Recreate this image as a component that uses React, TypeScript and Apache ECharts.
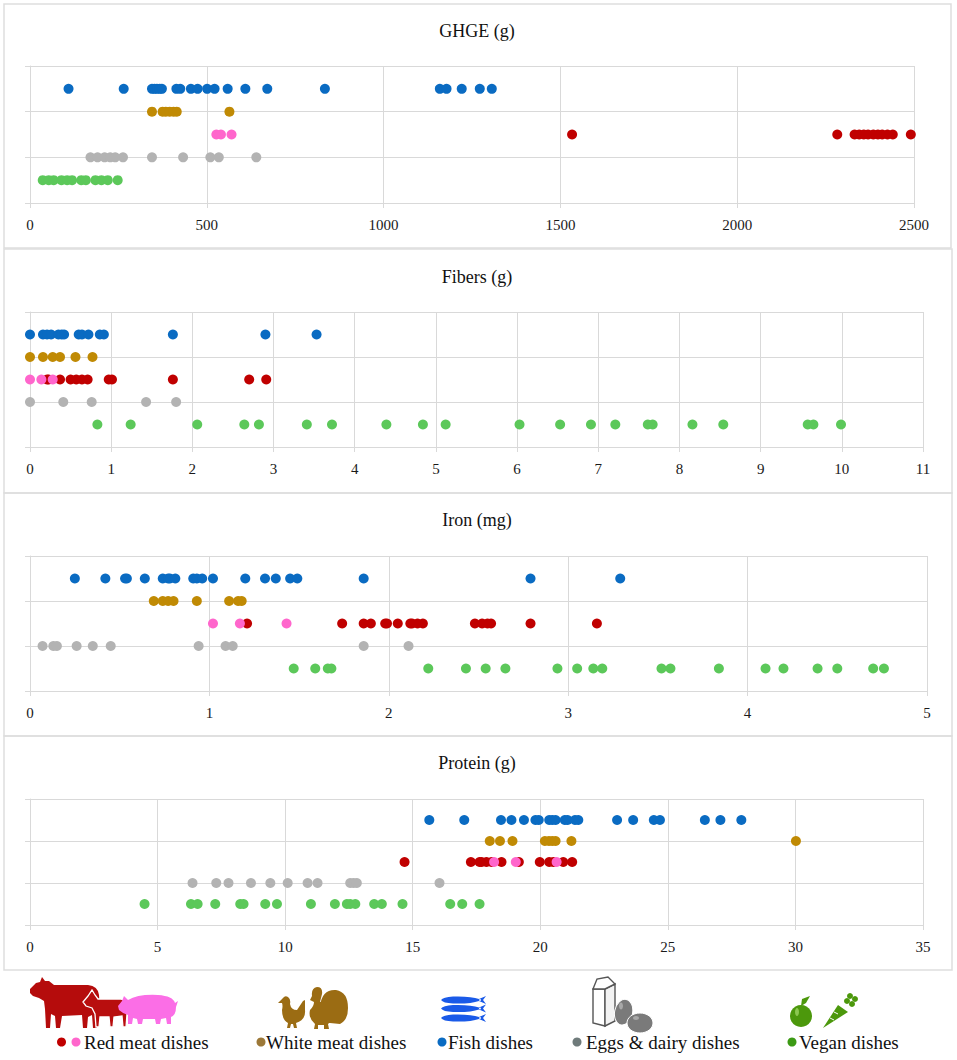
import React, { useEffect, useRef } from "react";
import * as echarts from "echarts";

// ---------- DATA ----------
const panelTitles = ["GHGE (g)", "Fibers (g)", "Iron (mg)", "Protein (g)"];
const axisMax = [2500, 11, 5, 35];
const axisInterval = [500, 1, 1, 5];

const categoryNames = ["Fish dishes", "White meat dishes", "Red meat dishes", "Red meat dishes (pork)", "Eggs & dairy dishes", "Vegan dishes"];
const categoryRows = [2.5, 2, 1.5, 1.5, 1, 0.5];

const ghgeFish = [109, 265, 345, 352, 359, 367, 373, 414, 425, 455, 474, 501, 522, 559, 609, 671, 834, 1159, 1178, 1221, 1272, 1306];
const ghgeWhite = [345, 375, 384, 395, 406, 415, 564];
const ghgeRed = [1533, 2283, 2332, 2345, 2358, 2370, 2385, 2398, 2410, 2425, 2440, 2491];
const ghgePink = [527, 540, 570];
const ghgeEggs = [171, 191, 211, 227, 241, 263, 345, 433, 510, 534, 640];
const ghgeVegan = [36, 53, 67, 89, 105, 119, 145, 158, 185, 202, 220, 248];

const fibFish = [0, 0.16, 0.21, 0.26, 0.35, 0.39, 0.42, 0.6, 0.64, 0.72, 0.86, 0.91, 1.76, 2.9, 3.53];
const fibWhite = [0, 0.16, 0.28, 0.37, 0.56, 0.77];
const fibRed = [0.21, 0.23, 0.37, 0.5, 0.57, 0.64, 0.71, 0.97, 1.01, 1.76, 2.7, 2.91];
const fibPink = [0, 0.14, 0.28];
const fibEggs = [0, 0.41, 0.76, 1.43, 1.8];
const fibVegan = [0.83, 1.24, 2.06, 2.64, 2.82, 3.41, 3.72, 4.39, 4.84, 5.12, 6.03, 6.53, 6.91, 7.21, 7.61, 7.67, 8.16, 8.54, 9.58, 9.65, 9.99];

const ironFish = [0.25, 0.42, 0.53, 0.54, 0.64, 0.74, 0.77, 0.78, 0.81, 0.91, 0.93, 0.96, 1.02, 1.2, 1.31, 1.37, 1.45, 1.49, 1.86, 2.79, 3.29];
const ironWhite = [0.69, 0.74, 0.77, 0.8, 0.93, 1.11, 1.16, 1.18];
const ironRed = [1.21, 1.74, 1.86, 1.9, 1.98, 1.99, 2.05, 2.12, 2.13, 2.16, 2.19, 2.48, 2.52, 2.55, 2.57, 2.79, 3.16];
const ironPink = [1.02, 1.17, 1.43];
const ironEggs = [0.07, 0.13, 0.15, 0.26, 0.35, 0.45, 0.94, 1.09, 1.13, 1.86, 2.11];
const ironVegan = [1.47, 1.59, 1.66, 1.68, 2.22, 2.43, 2.54, 2.65, 2.94, 3.05, 3.14, 3.19, 3.52, 3.57, 3.84, 4.1, 4.2, 4.39, 4.5, 4.7, 4.76];

const protFish = [15.65, 17.02, 18.46, 18.87, 19.36, 19.81, 19.94, 20.35, 20.47, 20.6, 20.96, 21.07, 21.36, 21.49, 23.01, 23.64, 24.45, 24.69, 26.45, 27.06, 27.88];
const protWhite = [18.02, 18.42, 18.91, 20.18, 20.34, 20.47, 20.6, 21.22, 30.02];
const protRed = [14.68, 17.28, 17.62, 17.7, 17.89, 18.09, 18.48, 19.16, 19.98, 20.35, 20.51, 20.9, 21.25];
const protPink = [18.19, 19.04, 20.64];
const protEggs = [6.37, 7.3, 7.78, 8.66, 9.42, 10.1, 10.88, 11.27, 12.55, 12.68, 12.81, 16.05];
const protVegan = [4.49, 6.31, 6.57, 7.26, 8.24, 8.37, 9.22, 9.68, 11.01, 11.95, 12.42, 12.55, 12.75, 13.49, 13.79, 14.6, 16.47, 16.94, 17.62];

const panelData = [
  [ghgeFish, ghgeWhite, ghgeRed, ghgePink, ghgeEggs, ghgeVegan],
  [fibFish, fibWhite, fibRed, fibPink, fibEggs, fibVegan],
  [ironFish, ironWhite, ironRed, ironPink, ironEggs, ironVegan],
  [protFish, protWhite, protRed, protPink, protEggs, protVegan],
];

const legendLabels = ["Red meat dishes", "White meat dishes", "Fish dishes", "Eggs & dairy dishes", "Vegan dishes"];

// ---------- STYLE ----------
const dotColors = ["#0a6bc2", "#c08a04", "#c00000", "#ff66cc", "#b3b3b3", "#5cc85a"];
const gridBoxes = [
  { top: 66, height: 137, right: 43 },
  { top: 312, height: 135, right: 34 },
  { top: 556, height: 135, right: 30 },
  { top: 799, height: 126, right: 34 },
];
const titleY = [31, 277, 520, 763];
const frames = [
  [4, 4, 947, 244],
  [4, 249, 948, 244],
  [4, 493, 948, 243],
  [4, 736, 948, 234],
];
const SERIF = "Liberation Serif";
const GRID_COLOR = "#d9d9d9";

const shapes: Record<string, string> = {
  cowShape:
    "M0,12 L6,6 L10,5 L12,0 L15,4 L19,4 L24,8 L58,8 Q68,9 69,18 L70,34 L67,36 L67,51 L63,51 L62,38 L58,40 L57,51 L53,51 L52,38 L32,39 L30,51 L26,51 L25,39 L21,37 L20,51 L16,51 L15,32 L14,24 L9,21 L3,19 L0,16 Z",
  calfShape:
    "M0,12 L5,6 L9,0 L12,5 L15,9 L38,9 Q45,10 45,16 L44,24 L43,37 L40,37 L39,26 L31,27 L30,37 L27,37 L26,27 L17,27 L16,37 L13,37 L12,24 L9,18 L3,16 Z",
  pigShape:
    "M0,12 L4,7 L6,2 L10,6 Q20,0 40,1 Q55,2 57,9 L60,7 L58,13 Q58,21 53,23 L53,30 L49,30 L48,24 L43,25 L42,30 L38,30 L37,25 L25,25 L24,30 L20,30 L19,25 L15,24 L14,30 L10,30 L10,21 Q4,19 1,16 Z",
  henShape:
    "M2,6 L5,3 Q7,0 10,2 Q13,4 12,9 Q13,15 19,15 L25,6 L27,5 L27,15 Q28,25 18,28 L19,33 L16,33 L15,29 L13,29 L12,33 L9,33 L10,28 Q4,25 4,15 Q5,11 4,8 L0,8 Z",
  turkeyShape:
    "M14,20 Q16,3 30,4 Q42,6 42,22 Q42,34 34,38 L14,36 Z M6,10 Q5,2 11,1 Q17,1 16,8 L14,16 Q22,14 28,22 Q30,32 22,38 L23,43 L18,43 L18,39 L12,39 L12,43 L8,43 L9,38 Q2,32 4,24 Q8,20 8,16 L4,14 Z",
  fishShape:
    "M0,4 Q2,1 12,0.5 Q30,0 38,3 L45,0 L42,4 L45,8 L38,5 Q30,8 12,7.5 Q2,7 0,4 Z",
};

let registered = false;
function registerShapes() {
  if (registered) return;
  Object.keys(shapes).forEach((k) => {
    echarts.graphic.registerShape(k, echarts.graphic.extendPath(shapes[k], {}));
  });
  registered = true;
}

function buildOption() {
  const grid = gridBoxes.map((g) => ({ left: 30, right: g.right, top: g.top, height: g.height, containLabel: false }));
  const xAxis = axisMax.map((m, i) => ({
    type: "value",
    gridIndex: i,
    min: 0,
    max: m,
    interval: axisInterval[i],
    axisLine: { show: true, lineStyle: { color: GRID_COLOR, width: 1 } },
    axisTick: { show: true, length: 5, lineStyle: { color: GRID_COLOR } },
    splitLine: { show: true, lineStyle: { color: GRID_COLOR, width: 1 } },
    axisLabel: {
      color: "#1a1a1a",
      fontFamily: SERIF,
      fontSize: 15,
      margin: 14,
      formatter: (v: number) => String(v),
    },
  }));
  const yAxis = axisMax.map((_, i) => ({
    type: "value",
    gridIndex: i,
    min: 0,
    max: 3,
    interval: 1,
    axisLine: { show: true, lineStyle: { color: GRID_COLOR, width: 1 } },
    axisTick: { show: true, length: 5, lineStyle: { color: GRID_COLOR } },
    splitLine: { show: true, lineStyle: { color: GRID_COLOR, width: 1 } },
    axisLabel: { show: false },
  }));
  const series: any[] = [];
  panelData.forEach((cats, pi) => {
    cats.forEach((vals, ci) => {
      series.push({
        type: "scatter",
        name: categoryNames[ci],
        xAxisIndex: pi,
        yAxisIndex: pi,
        symbol: "circle",
        symbolSize: 10,
        itemStyle: { color: dotColors[ci], opacity: 1 },
        data: vals.map((v) => [v, categoryRows[ci]]),
        z: 2 + ci,
      });
    });
  });

  const g: any[] = [];
  frames.forEach(([x, y, w, h]) => {
    g.push({ type: "rect", shape: { x, y, width: w, height: h }, style: { fill: "none", stroke: "#dedede", lineWidth: 1.5 }, silent: true, z: 0 });
  });
  panelTitles.forEach((t, i) => {
    g.push({
      type: "text",
      x: 477,
      y: titleY[i],
      style: { text: t, fill: "#111", fontFamily: SERIF, fontSize: 18, textAlign: "center", textVerticalAlign: "middle", align: "center", verticalAlign: "middle" },
    });
  });

  // ---- legend icons ----
  g.push({ type: "cowShape", x: 30, y: 977, style: { fill: "#b50c0c" } });
  g.push({ type: "calfShape", x: 83, y: 990, style: { fill: "#b80e0e", stroke: "#ffffff", lineWidth: 1.3 } });
  g.push({ type: "pigShape", x: 118, y: 994, style: { fill: "#fb6ee6" } });
  g.push({ type: "henShape", x: 278, y: 995, style: { fill: "#9b6c13" } });
  g.push({ type: "turkeyShape", x: 306, y: 986, style: { fill: "#9b6c13" } });
  [996, 1004.5, 1014].forEach((fy) => {
    g.push({ type: "fishShape", x: 441, y: fy, style: { fill: "#1a5ae8" } });
    g.push({ type: "circle", shape: { cx: 480, cy: fy + 4, r: 0.9 }, style: { fill: "#ffffff" } });
  });
  // milk carton
  g.push({ type: "polygon", shape: { points: [[593, 989], [605, 989], [605, 1026], [593, 1023]] }, style: { fill: "#ffffff", stroke: "#555", lineWidth: 1.4 } });
  g.push({ type: "polygon", shape: { points: [[605, 989], [615, 984], [615, 1021], [605, 1026]] }, style: { fill: "#f2f2f2", stroke: "#555", lineWidth: 1.4 } });
  g.push({ type: "polygon", shape: { points: [[593, 989], [597, 979], [608, 977], [615, 984], [605, 989]] }, style: { fill: "#ffffff", stroke: "#555", lineWidth: 1.4 } });
  // eggs
  g.push({ type: "ellipse", shape: { cx: 624, cy: 1012, rx: 9, ry: 13 }, rotation: -0.2, originX: 624, originY: 1012, style: { fill: "#7a7a7a", stroke: "#ffffff", lineWidth: 1 } });
  g.push({ type: "ellipse", shape: { cx: 621, cy: 1006, rx: 2, ry: 3.5 }, style: { fill: "#a8a8a8" } });
  g.push({ type: "ellipse", shape: { cx: 640, cy: 1023, rx: 13, ry: 10 }, style: { fill: "#7a7a7a", stroke: "#ffffff", lineWidth: 1 } });
  g.push({ type: "ellipse", shape: { cx: 636, cy: 1018, rx: 3, ry: 2 }, style: { fill: "#a8a8a8" } });
  // apple
  g.push({ type: "circle", shape: { cx: 801, cy: 1016, r: 11 }, style: { fill: "#4c980c" } });
  g.push({ type: "ellipse", shape: { cx: 797, cy: 1012, rx: 2, ry: 4 }, style: { fill: "#8cc850" } });
  g.push({ type: "polygon", shape: { points: [[801, 1006], [802, 999], [810, 996], [806, 1003]] }, style: { fill: "#4c980c" } });
  // carrot
  g.push({ type: "polygon", shape: { points: [[823, 1028], [838, 1005], [848, 1012]] }, style: { fill: "#4c980c" } });
  g.push({ type: "line", shape: { x1: 834, y1: 1012, x2: 838, y2: 1014 }, style: { stroke: "#fff", lineWidth: 1 } });
  g.push({ type: "line", shape: { x1: 830, y1: 1018, x2: 834, y2: 1020 }, style: { stroke: "#fff", lineWidth: 1 } });
  [[847, 1001], [852, 1004], [850, 996], [855, 999]].forEach(([cx, cy]) => {
    g.push({ type: "circle", shape: { cx, cy, r: 3 }, style: { fill: "#4c980c" } });
  });

  // ---- legend texts ----
  const legendDots = [
    { x: 61.5, c: "#c00000" },
    { x: 76, c: "#ff66cc" },
    { x: 261, c: "#9c7838" },
    { x: 442, c: "#0a6bc2" },
    { x: 577, c: "#6f7b7b" },
    { x: 792, c: "#3c9a14" },
  ];
  legendDots.forEach((d) => g.push({ type: "circle", shape: { cx: d.x, cy: 1042, r: 4.5 }, style: { fill: d.c } }));
  const legendTextX = [84, 266, 448, 586, 799];
  legendLabels.forEach((t, i) => {
    g.push({
      type: "text",
      x: legendTextX[i],
      y: 1042,
      style: { text: t, fill: "#111", fontFamily: SERIF, fontSize: 19, textAlign: "left", textVerticalAlign: "middle", align: "left", verticalAlign: "middle" },
    });
  });

  return {
    animation: false,
    backgroundColor: "#ffffff",
    textStyle: { fontFamily: SERIF },
    grid,
    xAxis,
    yAxis,
    series,
    graphic: { elements: g },
  };
}

export default function App() {
  const ref = useRef<HTMLDivElement>(null);
  useEffect(() => {
    if (!ref.current) return;
    registerShapes();
    const chart = echarts.init(ref.current, undefined, { renderer: "svg" });
    chart.setOption(buildOption() as any);
    return () => chart.dispose();
  }, []);
  return (
    <div
      ref={ref}
      style={{ position: "fixed", left: 0, top: 0, width: 957, height: 1060, background: "#fff" }}
    />
  );
}
